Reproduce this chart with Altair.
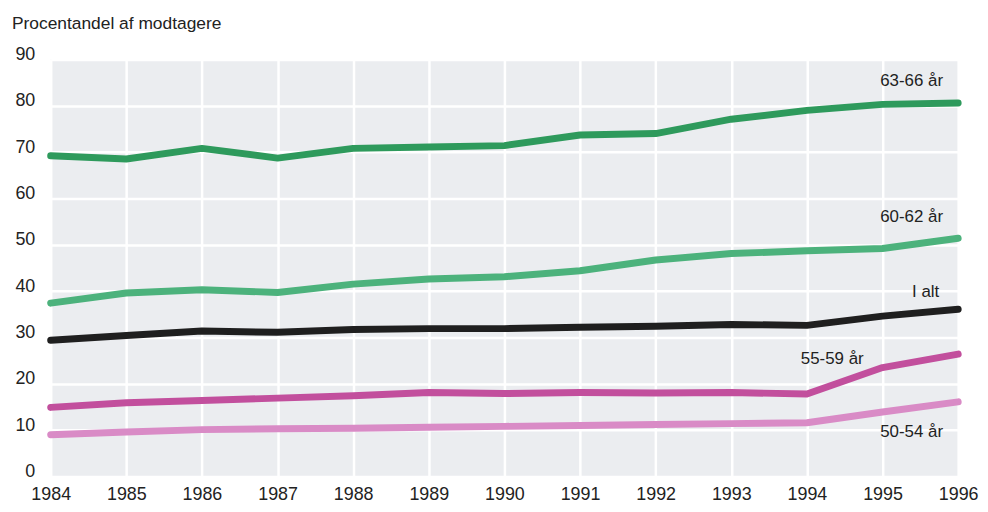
import altair as alt
import pandas as pd

years = list(range(1984, 1997))
series_names = ["63-66 år", "60-62 år", "I alt", "55-59 år", "50-54 år"]
v_63_66 = [69.2, 68.5, 70.8, 68.7, 70.8, 71.1, 71.4, 73.7, 74.0, 77.1, 79.0, 80.3, 80.6]
v_60_62 = [37.4, 39.6, 40.3, 39.7, 41.5, 42.6, 43.1, 44.4, 46.7, 48.1, 48.7, 49.2, 51.4]
v_i_alt = [29.4, 30.4, 31.4, 31.1, 31.7, 31.9, 31.9, 32.2, 32.4, 32.8, 32.6, 34.6, 36.1]
v_55_59 = [14.9, 15.9, 16.4, 16.9, 17.4, 18.1, 17.9, 18.1, 18.0, 18.1, 17.8, 23.5, 26.4]
v_50_54 = [9.0, 9.6, 10.1, 10.3, 10.4, 10.6, 10.8, 11.0, 11.2, 11.4, 11.6, 13.9, 16.1]
colors = ["#2e9a5c", "#4cb27c", "#1f1f1f", "#c24f9d", "#d98bc6"]

# label anchors (year, value) for right-aligned annotations
label_years = [1995.8, 1995.8, 1995.75, 1994.75, 1995.8]
label_values = [85.3, 56.0, 39.9, 25.3, 9.6]

y_ticks = list(range(0, 100, 10))
title_text = "Procentandel af modtagere"
FONT = "Liberation Sans Narrow, Arial Narrow, Liberation Sans, sans-serif"

rows = []
for name, vals in zip(series_names, [v_63_66, v_60_62, v_i_alt, v_55_59, v_50_54]):
    for yr, v in zip(years, vals):
        rows.append({"serie": name, "år": yr, "værdi": v})
df = pd.DataFrame(rows)
labels_df = pd.DataFrame({"serie": series_names, "år": label_years, "værdi": label_values})

x_scale = alt.Scale(domain=[1984, 1996], nice=False, zero=False)
y_scale = alt.Scale(domain=[0, 90], nice=False)
color_scale = alt.Scale(domain=series_names, range=colors)

lines = alt.Chart(df).mark_line(strokeWidth=7, strokeCap="round", strokeJoin="round").encode(
    x=alt.X("år:Q", scale=x_scale, axis=alt.Axis(values=years, format="d", title=None, grid=True,
            gridColor="white", gridWidth=2.5, domain=False, ticks=False, labelPadding=9,
            labelFontSize=18, labelFont=FONT, labelColor="#222", labelFlush=False)),
    y=alt.Y("værdi:Q", scale=y_scale, axis=alt.Axis(values=y_ticks, title=None, grid=True,
            gridColor="white", gridWidth=2.5, domain=False, ticks=False, labelPadding=16,
            labelFontSize=18, labelFont=FONT, labelColor="#222", labelOffset=-5)),
    color=alt.Color("serie:N", scale=color_scale, legend=None),
    detail="serie:N",
)

texts = alt.Chart(labels_df).mark_text(align="right", baseline="middle", fontSize=17, font=FONT,
                                        color="#222").encode(
    x=alt.X("år:Q", scale=x_scale),
    y=alt.Y("værdi:Q", scale=y_scale),
    text="serie:N",
)

title = alt.Chart(pd.DataFrame({"t": [title_text]})).mark_text(
    align="left", baseline="middle", fontSize=17.5, font=FONT, color="#222", clip=False
).encode(x=alt.value(-39), y=alt.value(-36), text="t:N")

chart = alt.layer(lines, texts, title).properties(
    width=914, height=420,
    autosize=alt.AutoSizeParams(type="none"),
    padding={"left": 43, "top": 50, "right": 22, "bottom": 32},
    background="white",
).configure_view(fill="#ebedf0", stroke=None)

chart.save("out.html", embed_options={"renderer": "svg", "actions": False})
